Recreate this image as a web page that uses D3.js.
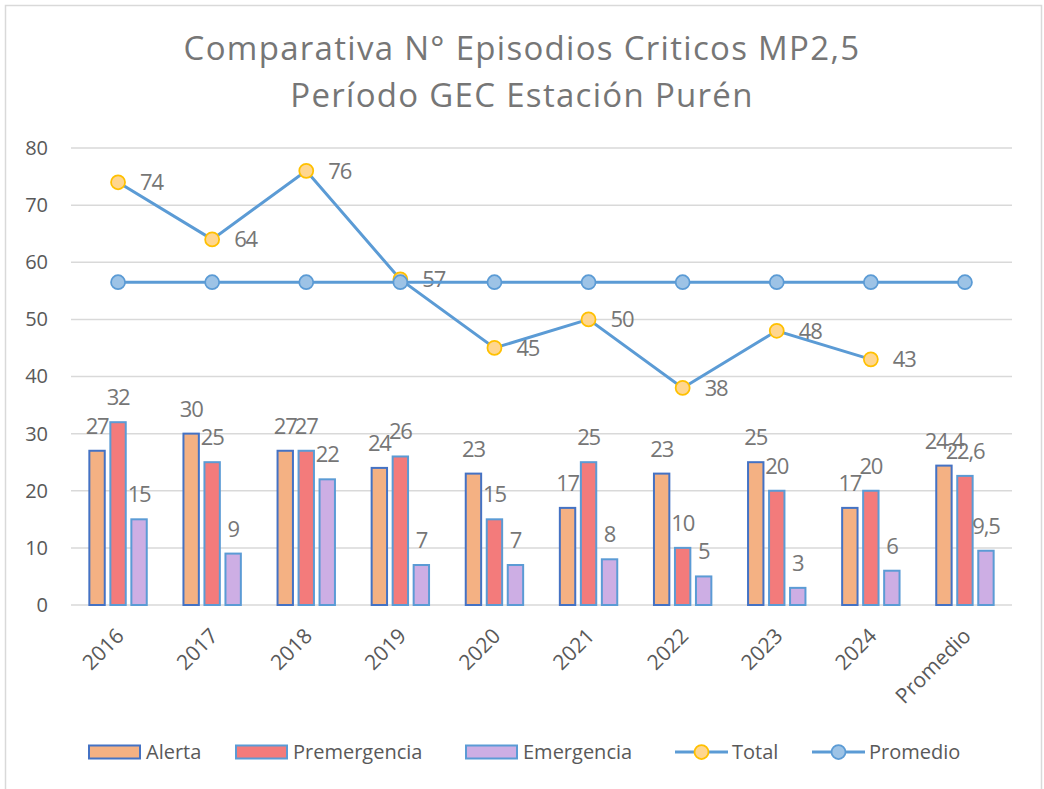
<!DOCTYPE html>
<html>
<head>
<meta charset="utf-8">
<script src="https://cdn.jsdelivr.net/npm/d3@7/dist/d3.min.js"></script>
<style>
  body { margin: 0; background: #fff; }
  text { font-family: "Open Sans", "Noto Sans", sans-serif; }
</style>
</head>
<body>
<script>
// Data
const categories = ["2016", "2017", "2018", "2019", "2020", "2021", "2022", "2023", "2024", "Promedio"];
const alerta = [27, 30, 27, 24, 23, 17, 23, 25, 17, 24.4];
const premergencia = [32, 25, 27, 26, 15, 25, 10, 20, 20, 22.6];
const emergencia = [15, 9, 22, 7, 7, 8, 5, 3, 6, 9.5];
const total = [74, 64, 76, 57, 45, 50, 38, 48, 43, null];
const promedio = [56.5, 56.5, 56.5, 56.5, 56.5, 56.5, 56.5, 56.5, 56.5, 56.5];
const yTicks = [0, 10, 20, 30, 40, 50, 60, 70, 80];

// Canvas setup
const canvasWidth = 1044;
const canvasHeight = 789;

const svg = d3.select('body')
    .append('svg')
    .attr('width', canvasWidth)
    .attr('height', canvasHeight);

// chart frame
svg.append('rect')
    .attr('x', 5.5).attr('y', 5.5)
    .attr('width', 1036).attr('height', 800)
    .attr('fill', '#fff')
    .attr('stroke', '#d9d9d9')
    .attr('stroke-width', 1.5);

let margins = { top: 148, bottom: 184, left: 71, right: 32 };
let plotWidth = canvasWidth - margins.left - margins.right;
let plotHeight = canvasHeight - margins.top - margins.bottom;

const fmt = v => String(v).replace('.', ',');
const labelColor = '#767676';

// Title
const title = svg.append('text')
    .attr('text-anchor', 'middle')
    .attr('fill', '#767676')
    .style('font-size', '33px')
    .style('letter-spacing', '1.3px');
title.append('tspan').attr('x', 522).attr('y', 60).text('Comparativa N° Episodios Criticos MP2,5');
title.append('tspan').attr('x', 522).attr('y', 107).text('Período GEC Estación Purén');

let plotGroup = svg.append('g')
    .attr('transform', `translate(${margins.left},${margins.top})`);

// Scales
let xScale = d3.scaleBand()
    .domain(categories)
    .range([0, plotWidth]);

let yScale = d3.scaleLinear()
    .domain([0, 80])
    .range([plotHeight, 0]);

let series = [
    { name: 'Alerta', values: alerta, fill: '#F4B183', stroke: '#4472C4' },
    { name: 'Premergencia', values: premergencia, fill: '#F37B7B', stroke: '#5B9BD5' },
    { name: 'Emergencia', values: emergencia, fill: '#CDAEE4', stroke: '#5B9BD5' }
];

let groupWidth = xScale.bandwidth() * 0.61;
let subScale = d3.scaleBand()
    .domain(series.map(s => s.name))
    .range([0, groupWidth])
    .paddingInner(0.267);

let groupOffset = (xScale.bandwidth() - groupWidth) / 2;

// Gridlines
plotGroup.append('g')
    .selectAll('line')
    .data(yTicks)
    .join('line')
    .attr('x1', 0).attr('x2', plotWidth)
    .attr('y1', d => yScale(d)).attr('y2', d => yScale(d))
    .attr('stroke', '#d9d9d9')
    .attr('stroke-width', 1.5);

// Y axis labels
let yAxis = plotGroup.append('g')
    .call(d3.axisLeft(yScale).tickValues(yTicks).tickSize(0).tickPadding(23));
yAxis.select('.domain').remove();
yAxis.selectAll('text')
    .attr('fill', '#595959')
    .style('font-size', '20px')
    .style('font-family', '"Open Sans", sans-serif');

// X axis labels
let xAxis = plotGroup.append('g')
    .attr('transform', `translate(0,${plotHeight})`)
    .call(d3.axisBottom(xScale).tickSize(0));
xAxis.select('.domain').remove();
xAxis.selectAll('text')
    .attr('fill', '#595959')
    .style('font-size', '21px')
    .style('font-family', '"Open Sans", sans-serif')
    .attr('text-anchor', 'end')
    .attr('x', 0).attr('y', 0)
    .attr('dy', '0.35em')
    .attr('transform', 'translate(2,27) rotate(-45)');

// Bars
series.forEach(s => {
    let g = plotGroup.append('g');
    g.selectAll('rect')
        .data(categories)
        .join('rect')
        .attr('x', c => xScale(c) + groupOffset + subScale(s.name))
        .attr('y', (c, i) => yScale(s.values[i]))
        .attr('width', subScale.bandwidth())
        .attr('height', (c, i) => plotHeight - yScale(s.values[i]))
        .attr('fill', s.fill)
        .attr('stroke', s.stroke)
        .attr('stroke-width', 2);
    g.selectAll('text')
        .data(categories)
        .join('text')
        .attr('x', c => xScale(c) + groupOffset + subScale(s.name) + subScale.bandwidth() / 2)
        .attr('y', (c, i) => yScale(s.values[i]) - 17)
        .attr('text-anchor', 'middle')
        .attr('fill', labelColor)
        .style('font-size', '22px')
        .style('letter-spacing', '-1.2px')
        .text((c, i) => fmt(s.values[i]));
});

// Lines
const cx = c => xScale(c) + xScale.bandwidth() / 2;

let lineFn = d3.line()
    .defined(d => d.v != null)
    .x(d => cx(d.c))
    .y(d => yScale(d.v));

let totalData = categories.map((c, i) => ({ c: c, v: total[i] }));
let promData = categories.map((c, i) => ({ c: c, v: promedio[i] }));

plotGroup.append('path')
    .attr('d', lineFn(totalData))
    .attr('fill', 'none')
    .attr('stroke', '#5B9BD5')
    .attr('stroke-width', 3);

plotGroup.append('g')
    .selectAll('circle')
    .data(totalData.filter(d => d.v != null))
    .join('circle')
    .attr('cx', d => cx(d.c))
    .attr('cy', d => yScale(d.v))
    .attr('r', 7)
    .attr('fill', '#FFD68F')
    .attr('stroke', '#FFC000')
    .attr('stroke-width', 1.75);

plotGroup.append('g')
    .selectAll('text')
    .data(totalData.filter(d => d.v != null))
    .join('text')
    .attr('x', d => cx(d.c) + 22)
    .attr('y', d => yScale(d.v))
    .attr('dy', '0.36em')
    .attr('fill', labelColor)
    .style('font-size', '22px')
    .style('letter-spacing', '-1.2px')
    .text(d => fmt(d.v));

plotGroup.append('path')
    .attr('d', lineFn(promData))
    .attr('fill', 'none')
    .attr('stroke', '#5B9BD5')
    .attr('stroke-width', 3);

plotGroup.append('g')
    .selectAll('circle')
    .data(promData)
    .join('circle')
    .attr('cx', d => cx(d.c))
    .attr('cy', d => yScale(d.v))
    .attr('r', 7)
    .attr('fill', '#9DC3E6')
    .attr('stroke', '#5B9BD5')
    .attr('stroke-width', 1.75);

// Legend
const legendItems = [
    { name: 'Alerta', type: 'bar', fill: '#F4B183', stroke: '#4472C4', x: 89 },
    { name: 'Premergencia', type: 'bar', fill: '#F37B7B', stroke: '#5B9BD5', x: 236 },
    { name: 'Emergencia', type: 'bar', fill: '#CDAEE4', stroke: '#5B9BD5', x: 466 },
    { name: 'Total', type: 'line', fill: '#FFD68F', stroke: '#FFC000', x: 675 },
    { name: 'Promedio', type: 'line', fill: '#9DC3E6', stroke: '#5B9BD5', x: 812 }
];

let legend = svg.append('g').attr('transform', 'translate(0,752)');
legendItems.forEach(item => {
    let g = legend.append('g').attr('transform', `translate(${item.x},0)`);
    if (item.type === 'bar') {
        g.append('rect')
            .attr('x', 0).attr('y', -6.5)
            .attr('width', 51).attr('height', 13)
            .attr('fill', item.fill)
            .attr('stroke', item.stroke)
            .attr('stroke-width', 2);
    } else {
        g.append('line')
            .attr('x1', 0).attr('x2', 53)
            .attr('y1', 0).attr('y2', 0)
            .attr('stroke', '#5B9BD5')
            .attr('stroke-width', 3);
        g.append('circle')
            .attr('cx', 26.5).attr('cy', 0).attr('r', 7)
            .attr('fill', item.fill)
            .attr('stroke', item.stroke)
            .attr('stroke-width', 1.75);
    }
    g.append('text')
        .attr('x', 57)
        .attr('y', 0)
        .attr('dy', '0.35em')
        .attr('fill', '#595959')
        .style('font-size', '20px')
        .text(item.name);
});
</script>
</body>
</html>
